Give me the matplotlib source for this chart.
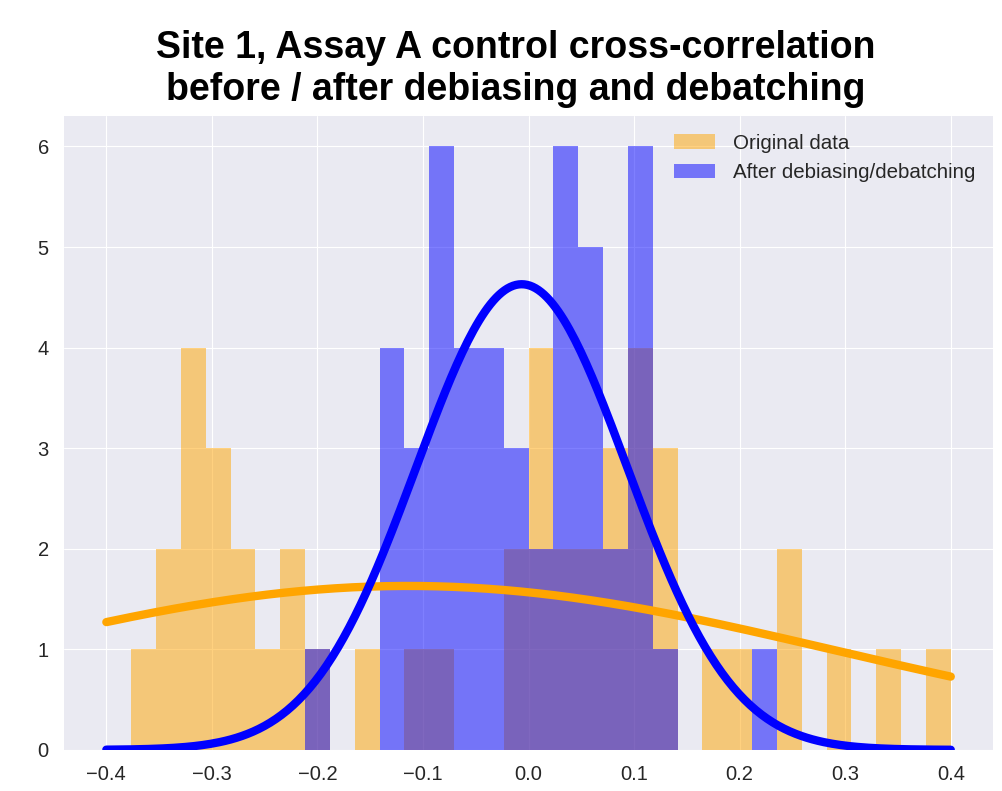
import numpy as np
import matplotlib
matplotlib.use("Agg")
import matplotlib.pyplot as plt

plt.style.use("seaborn-v0_8-darkgrid")
plt.rcParams['font.family'] = ['Liberation Sans', 'DejaVu Sans']

# histogram bins: 34 equal bins between -0.4 and 0.4
bin_edges = np.linspace(-0.4, 0.4, 35)
bin_centers = (bin_edges[:-1] + bin_edges[1:]) / 2

# counts per bin
orig_counts = [0, 1, 2, 4, 3, 2, 1, 2, 1, 0, 1, 0, 1, 1, 0, 0, 2,
               4, 2, 2, 3, 4, 3, 0, 1, 1, 0, 2, 0, 1, 0, 1, 0, 1]
after_counts = [0, 0, 0, 0, 0, 0, 0, 0, 1, 0, 0, 4, 3, 6, 4, 4, 3,
                2, 6, 5, 2, 6, 1, 0, 0, 0, 1, 0, 0, 0, 0, 0, 0, 0]

# fitted gaussian curves (peak height, mean, std)
orig_fit = (1.63, -0.114, 0.405)
after_fit = (4.63, -0.0065, 0.1)

labels = ["Original data", "After debiasing/debatching"]

fig, ax = plt.subplots(figsize=(10.02, 7.91), dpi=100)
fig.subplots_adjust(left=0.064, right=0.991, top=0.853, bottom=0.052)

ax.hist(bin_centers, bins=bin_edges, weights=orig_counts, color="orange",
        alpha=0.5, label=labels[0])
ax.hist(bin_centers, bins=bin_edges, weights=after_counts, color="blue",
        alpha=0.5, label=labels[1])

x = np.linspace(-0.4, 0.4, 300)
for (amp, mu, sd), col in [(orig_fit, "orange"), (after_fit, "blue")]:
    y = amp * np.exp(-(x - mu) ** 2 / (2 * sd ** 2))
    ax.plot(x, y, color=col, linewidth=6, solid_capstyle="round")

ax.set_xticks(np.round(np.arange(-0.4, 0.41, 0.1), 1))
ax.tick_params(axis="x", labelsize=14.5, pad=11, colors="#262626")
ax.tick_params(axis="y", labelsize=14.5, pad=11, colors="#262626")
ax.legend(loc="upper right", fontsize=14.8, handletextpad=0.9, borderaxespad=0.45)
ax.set_title("Site 1, Assay A control cross-correlation\nbefore / after debiasing and debatching",
             fontsize=27, fontweight="bold", color="black", pad=12, linespacing=1.2,
             x=0.486)

fig.savefig("out.png", dpi=100)
